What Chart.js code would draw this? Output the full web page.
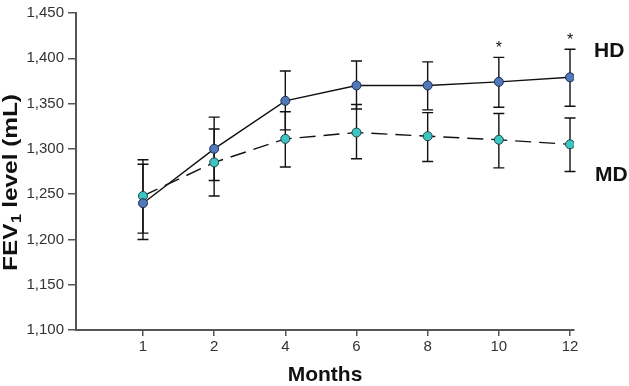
<!DOCTYPE html>
<html>
<head>
<meta charset="utf-8">
<script src="https://cdn.jsdelivr.net/npm/chart.js@4/dist/chart.umd.min.js"></script>
<style>
  html, body { margin: 0; padding: 0; background: #fff; overflow: hidden; }
  #c { display: block; }
</style>
</head>
<body>
<canvas id="c" width="629" height="386" style="width:629px;height:386px"></canvas>
<script>
// ---- data ----
const months = ['1', '2', '4', '6', '8', '10', '12'];
const hdMean  = [1240, 1300, 1353, 1370, 1370, 1374, 1379];
const hdUpper = [1283, 1335, 1386, 1397, 1396, 1401, 1410];
const hdLower = [1200, 1265, 1321, 1344, 1343, 1346, 1347];
const mdMean  = [1248, 1285, 1311, 1318, 1314, 1310, 1305];
const mdUpper = [1288, 1322, 1341, 1349, 1340, 1339, 1334];
const mdLower = [1207, 1248, 1280, 1289, 1286, 1279, 1275];
const hdSignif = ['', '', '', '', '', '*', '*'];
const yTicks = [1100, 1150, 1200, 1250, 1300, 1350, 1400, 1450];
const seriesNames = ['HD', 'MD'];
const xTitle = 'Months';
const yTitleParts = ['FEV', '1', ' level (mL)'];

const FONT = '"Liberation Sans", Arial, Helvetica, sans-serif';

const errorBarPlugin = {
  id: 'errorBars',
  beforeDatasetsDraw(chart) {
    const ctx = chart.ctx;
    const xs = chart.scales.x, ys = chart.scales.y;
    ctx.save();
    ctx.strokeStyle = '#111';
    ctx.lineWidth = 1.4;
    chart.data.datasets.forEach(ds => {
      ds.upper.forEach((u, i) => {
        const x = xs.getPixelForValue(i);
        const yt = ys.getPixelForValue(u);
        const yb = ys.getPixelForValue(ds.lower[i]);
        ctx.beginPath();
        ctx.moveTo(x, yt); ctx.lineTo(x, yb);
        ctx.moveTo(x - 5.5, yt); ctx.lineTo(x + 5.5, yt);
        ctx.moveTo(x - 5.5, yb); ctx.lineTo(x + 5.5, yb);
        ctx.stroke();
      });
    });
    ctx.restore();
  },
  afterDraw(chart) {
    const ctx = chart.ctx;
    const xs = chart.scales.x, ys = chart.scales.y;
    const area = chart.chartArea;
    ctx.save();
    // significance marks
    ctx.fillStyle = '#111';
    ctx.font = '16px ' + FONT;
    ctx.textAlign = 'center';
    ctx.textBaseline = 'middle';
    hdSignif.forEach((s, i) => {
      if (!s) return;
      ctx.fillText(s, xs.getPixelForValue(i), ys.getPixelForValue(hdUpper[i]) - 9);
    });
    // series labels
    ctx.font = 'bold 21px ' + FONT;
    ctx.textAlign = 'left';
    ctx.fillText(seriesNames[0], area.right + 20, ys.getPixelForValue(1408));
    ctx.fillText(seriesNames[1], area.right + 21, ys.getPixelForValue(1271));
    // y axis title with subscript
    ctx.translate(11, (area.top + area.bottom) / 2 + 11);
    ctx.rotate(-Math.PI / 2);
    ctx.scale(1.16, 1);
    ctx.textBaseline = 'middle';
    const big = 'bold 21px ' + FONT, small = 'bold 14px ' + FONT;
    ctx.font = big;
    const w0 = ctx.measureText(yTitleParts[0]).width;
    ctx.font = small;
    const w1 = ctx.measureText(yTitleParts[1]).width;
    ctx.font = big;
    const w2 = ctx.measureText(yTitleParts[2]).width;
    let x0 = -(w0 + w1 + w2) / 2;
    ctx.fillText(yTitleParts[0], x0, 0);
    ctx.font = small;
    ctx.fillText(yTitleParts[1], x0 + w0 + 0.5, 6);
    ctx.font = big;
    ctx.fillText(yTitleParts[2], x0 + w0 + w1, 0);
    ctx.restore();
  }
};

new Chart(document.getElementById('c'), {
  type: 'line',
  data: {
    datasets: [
      {
        label: seriesNames[0],
        data: hdMean.map((v, i) => ({ x: i, y: v })),
        upper: hdUpper, lower: hdLower,
        borderColor: '#111', borderWidth: 1.4,
        pointBackgroundColor: '#4f79b9', pointBorderColor: '#1c2b4a',
        pointBorderWidth: 1, pointRadius: 4.5, tension: 0
      },
      {
        label: seriesNames[1],
        data: mdMean.map((v, i) => ({ x: i, y: v })),
        upper: mdUpper, lower: mdLower,
        borderColor: '#111', borderWidth: 1.4, borderDash: [16, 8],
        pointBackgroundColor: '#3ec5c1', pointBorderColor: '#1a4646',
        pointBorderWidth: 1, pointRadius: 4.5, tension: 0
      }
    ]
  },
  options: {
    responsive: false,
    maintainAspectRatio: false,
    devicePixelRatio: 1,
    animation: false,
    layout: { padding: { top: 7, right: 55, bottom: 0, left: 0 } },
    plugins: { legend: { display: false }, tooltip: { enabled: false } },
    scales: {
      x: {
        type: 'linear',
        min: -0.941, max: 6.056,
        afterBuildTicks: s => { s.ticks = months.map((m, i) => ({ value: i })); },
        afterFit: s => { s.height = 56; },
        ticks: {
          callback: v => months[v],
          font: { family: FONT, size: 15 },
          color: '#333',
          padding: 2,
          maxRotation: 0
        },
        grid: { display: true, drawOnChartArea: false, drawTicks: true, tickLength: 6, color: '#555', lineWidth: 1.5 },
        border: { display: true, color: '#555', width: 2 },
        title: { display: true, text: xTitle, font: { family: FONT, size: 21, weight: 'bold', lineHeight: 1 }, color: '#111', padding: 0 }
      },
      y: {
        min: 1100, max: 1450,
        afterBuildTicks: s => { s.ticks = yTicks.map(v => ({ value: v })); },
        afterFit: s => { s.width = 76; },
        ticks: {
          callback: v => v.toLocaleString('en-US'),
          font: { family: FONT, size: 15 },
          color: '#333',
          padding: 4
        },
        grid: { display: true, drawOnChartArea: false, drawTicks: true, tickLength: 8, color: '#555', lineWidth: 1.5 },
        border: { display: true, color: '#555', width: 2 }
      }
    }
  },
  plugins: [errorBarPlugin]
});
</script>
</body>
</html>
